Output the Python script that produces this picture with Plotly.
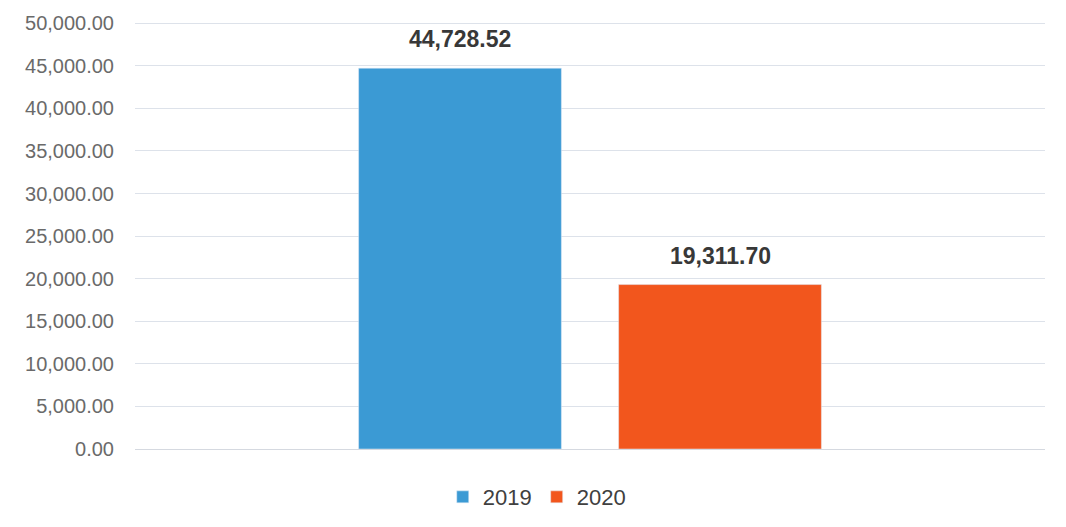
import plotly.graph_objects as go

series_names = ["2019", "2020"]
values = [44728.52, 19311.70]
colors = ["#3b9ad4", "#f2561d"]
tick_vals = [0, 5000, 10000, 15000, 20000, 25000, 30000, 35000, 40000, 45000, 50000]
tick_text = ["0.00", "5,000.00", "10,000.00", "15,000.00", "20,000.00", "25,000.00",
             "30,000.00", "35,000.00", "40,000.00", "45,000.00", "50,000.00"]

FONT = "Liberation Sans, Arial, sans-serif"

fig = go.Figure()
annotations = []
for i, (name, v, c) in enumerate(zip(series_names, values, colors)):
    fig.add_trace(go.Bar(x=[name], y=[v], name=name, marker_color=c, width=0.78))
    annotations.append(dict(x=i, y=v, xref="x", yref="y", text="<b>" + f"{v:,.2f}" + "</b>",
                            showarrow=False, yanchor="bottom", yshift=14,
                            font=dict(family=FONT, size=23, color="#383838")))

fig.update_layout(
    width=1066, height=527,
    margin=dict(l=127, r=29, t=14, b=86, autoexpand=False),
    paper_bgcolor="white", plot_bgcolor="white",
    barmode="overlay",
    font=dict(family=FONT, color="#666666"),
    annotations=annotations,
    legend=dict(orientation="h", xref="container", yref="container",
                x=0.496, xanchor="center", y=0.072, yanchor="middle",
                font=dict(size=22, color="#404040"), itemwidth=30,
                traceorder="normal"),
    showlegend=True,
)
fig.update_yaxes(range=[0, 50150], tickvals=tick_vals, ticktext=tick_text,
                 showgrid=True, gridcolor="#dde2ea", gridwidth=1.2,
                 zeroline=True, zerolinecolor="#d5d9e0", zerolinewidth=1.2,
                 tickfont=dict(size=20, color="#6a6a6a"), ticks="", ticklabelstandoff=20,
                 showline=False, automargin=False)
fig.update_xaxes(type="category", range=[-1.25, 2.25], showticklabels=False,
                 showgrid=False, showline=False, zeroline=False, automargin=False)

fig.write_html("out.html")
